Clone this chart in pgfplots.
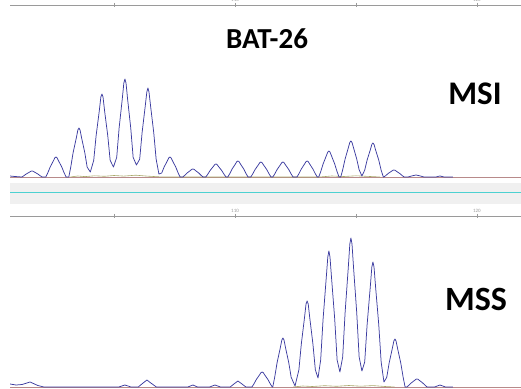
\documentclass[border=0pt]{standalone}
\usepackage{pgfplots}
\pgfplotsset{compat=1.18}
\usepackage{fontspec}
\setmainfont{Carlito}
\definecolor{trace}{HTML}{3C3CA0}
\definecolor{basecol}{HTML}{B88A8A}
\definecolor{olivecol}{HTML}{A8A868}
\definecolor{bandgray}{HTML}{F0F0F0}
\definecolor{sepline}{rgb}{0.30,0.82,0.82}
\definecolor{rulergray}{HTML}{9A9A9A}
\pgfplotsset{
  ruler/.style={
    scale only axis, width=511pt,
    xmin=100.70, xmax=121.82,
    axis x line*=top, axis y line=none,
    x axis line style={-, rulergray, line width=0.6pt},
    xtick={105,110,115,120}, xticklabels={,110,,120},
    tick align=center, major tick length=4pt,
    every tick/.style={rulergray, line width=0.5pt},
    xticklabel style={font=\fontsize{5}{5}\selectfont, text=rulergray, yshift=-2.5pt},
    /pgf/number format/assume math mode=true,
  }
}
\begin{document}
\begin{tikzpicture}[x=1pt,y=1pt]
% separator band
\fill[bandgray] (10,184) rectangle (521,205);
\fill[sepline] (10,194.6) rectangle (521,195.6);
% top panel (MSI)
\begin{axis}[ruler, height=176pt, ymin=-4, ymax=172, at={(10pt,207pt)}, anchor=south west]
\addplot[basecol, line width=0.9pt] coordinates {(100.70,0) (121.82,0)};
\addplot[olivecol, line width=0.6pt] coordinates {(103.2,0) (103.5,1) (103.8,0.4) (104.2,1.2) (104.6,0.7) (105.0,1.5) (105.4,0.9) (105.9,1.8) (106.3,1.0) (106.7,0.4) (107.0,0) (113.5,0) (114.0,1) (114.5,0.5) (115.0,1.2) (115.5,0.6) (116.0,0)};
\addplot[trace, line width=0.75pt, line join=round] coordinates {
(100.70,1) (100.90,0.5) (101.19,0) (101.27,1.2) (101.37,3) (101.50,4.8) (101.565,5.8) (101.61,6) (101.655,5.8) (101.72,4.8) (101.85,3) (101.95,1.2) (102.03,0)
(102.18,0) (102.26,4) (102.36,10) (102.49,16) (102.555,19.2) (102.60,20) (102.645,19.2) (102.71,16) (102.84,10) (102.94,4) (103.02,0)
(103.13,0) (103.21,9.8) (103.31,24.5) (103.44,39) (103.505,47) (103.55,49) (103.595,47) (103.66,39) (103.79,24.5) (103.89,9.8) (104.02,5)
(104.16,16.6) (104.26,41.5) (104.39,66) (104.455,80) (104.50,83) (104.545,80) (104.61,66) (104.74,41.5) (104.84,16.6) (104.975,10)
(105.11,19.6) (105.21,49) (105.34,78) (105.405,94) (105.45,98) (105.495,94) (105.56,78) (105.69,49) (105.79,19.6) (105.925,12)
(106.06,17.8) (106.16,44.5) (106.29,71) (106.355,85) (106.40,89) (106.445,85) (106.51,71) (106.64,44.5) (106.74,17.8) (106.855,3)
(106.97,4) (107.07,10) (107.20,16) (107.265,19.2) (107.31,20) (107.355,19.2) (107.42,16) (107.55,10) (107.65,4) (107.73,0)
(107.84,0) (107.92,1.6) (108.02,4) (108.15,6.4) (108.215,7.7) (108.26,8) (108.305,7.7) (108.37,6.4) (108.50,4) (108.60,1.6) (108.68,0)
(108.79,0) (108.87,2.6) (108.97,6.5) (109.10,10.4) (109.165,12.5) (109.21,13) (109.255,12.5) (109.32,10.4) (109.45,6.5) (109.55,2.6) (109.63,0)
(109.70,0) (109.78,3.2) (109.88,8) (110.01,12.8) (110.075,15.4) (110.12,16) (110.165,15.4) (110.23,12.8) (110.36,8) (110.46,3.2) (110.54,0)
(110.65,0) (110.73,3) (110.83,7.5) (110.96,12) (111.025,14.4) (111.07,15) (111.115,14.4) (111.18,12) (111.31,7.5) (111.41,3) (111.49,0)
(111.56,0) (111.64,3) (111.74,7.5) (111.87,12) (111.935,14.4) (111.98,15) (112.025,14.4) (112.09,12) (112.22,7.5) (112.32,3) (112.40,0)
(112.56,0) (112.64,3.2) (112.74,8) (112.87,12.8) (112.935,15.4) (112.98,16) (113.025,15.4) (113.09,12.8) (113.22,8) (113.32,3.2) (113.40,0)
(113.46,0) (113.54,5.2) (113.64,13) (113.77,21) (113.835,25) (113.88,26) (113.925,25) (113.99,21) (114.12,13) (114.22,5.2) (114.30,0)
(114.37,0) (114.45,7.2) (114.55,18) (114.68,29) (114.745,34.6) (114.79,36) (114.835,34.6) (114.90,29) (115.03,18) (115.13,7.2) (115.245,1)
(115.36,6.8) (115.46,17) (115.59,27) (115.655,32.6) (115.70,34) (115.745,32.6) (115.81,27) (115.94,17) (116.04,6.8) (116.13,0)
(116.15,0) (116.23,1.4) (116.33,3.5) (116.46,5.6) (116.525,6.7) (116.57,7) (116.615,6.7) (116.68,5.6) (116.81,3.5) (116.91,1.4) (116.99,0)
(117.15,0) (117.30,1) (117.48,2) (117.66,1) (117.81,0)
(118.30,0) (118.47,1) (118.64,0) (119.0,0)};
\end{axis}
% bottom panel (MSS)
\begin{axis}[ruler, height=172pt, ymin=-1, ymax=171, at={(10pt,0pt)}, anchor=south west]
\addplot[basecol, line width=0.9pt] coordinates {(100.70,0) (121.82,0)};
\addplot[olivecol, line width=0.6pt] coordinates {(112.4,0) (112.8,1) (113.2,0.5) (113.7,1.3) (114.2,0.7) (114.7,1.5) (115.2,0.8) (115.7,1.4) (116.2,0.5) (116.6,0)};
\addplot[trace, line width=0.75pt, line join=round] coordinates {
(100.70,3) (100.95,2) (101.20,2.5) (101.53,5) (101.85,1.5) (102.10,0)
(105.20,0) (105.45,2) (105.70,0) (106.00,0) (106.20,4) (106.36,7) (106.52,4) (106.75,0)
(108.05,0) (108.26,2) (108.45,0) (108.95,0) (109.17,2) (109.40,0)
(109.80,0) (109.98,3.5) (110.12,6) (110.26,3.5) (110.45,0)
(110.70,0) (110.78,3) (110.88,7.5) (111.01,12) (111.075,14.4) (111.12,15) (111.165,14.4) (111.23,12) (111.36,7.5) (111.46,3) (111.54,0)
(111.56,0) (111.64,9.8) (111.74,24.5) (111.87,39) (111.935,47) (111.98,49) (112.025,47) (112.09,39) (112.22,24.5) (112.32,9.8) (112.48,1)
(112.64,17.2) (112.74,43) (112.87,69) (112.935,83) (112.98,86) (113.025,83) (113.09,69) (113.22,43) (113.32,17.2) (113.43,9)
(113.54,27) (113.64,68) (113.77,109) (113.835,130) (113.88,136) (113.925,130) (113.99,109) (114.12,68) (114.22,27) (114.335,15)
(114.45,30) (114.55,74.5) (114.68,119) (114.745,143) (114.79,149) (114.835,143) (114.90,119) (115.03,74.5) (115.13,30) (115.245,16)
(115.36,25) (115.46,62.5) (115.59,100) (115.655,120) (115.70,125) (115.745,120) (115.81,100) (115.94,62.5) (116.04,25) (116.155,5)
(116.27,9.6) (116.37,24) (116.50,38.4) (116.565,46) (116.61,48) (116.655,46) (116.72,38.4) (116.85,24) (116.95,9.6) (117.03,0)
(117.10,0) (117.18,1.6) (117.28,4) (117.41,6.4) (117.475,7.7) (117.52,8) (117.565,7.7) (117.63,6.4) (117.76,4) (117.86,1.6) (117.94,0)
(118.25,0) (118.47,2) (118.70,0) (119.0,0)};
\end{axis}
\node[font=\bfseries\fontsize{29}{29}\selectfont, inner sep=0pt] at (267,349.5) {BAT-26};
\node[font=\bfseries\fontsize{33}{33}\selectfont, inner sep=0pt] at (475,294.5) {MSI};
\node[font=\bfseries\fontsize{34}{34}\selectfont, inner sep=0pt] at (476,88.5) {MSS};
\pgfresetboundingbox
\useasboundingbox (0,0) rectangle (521,388);
\end{tikzpicture}
\end{document}
